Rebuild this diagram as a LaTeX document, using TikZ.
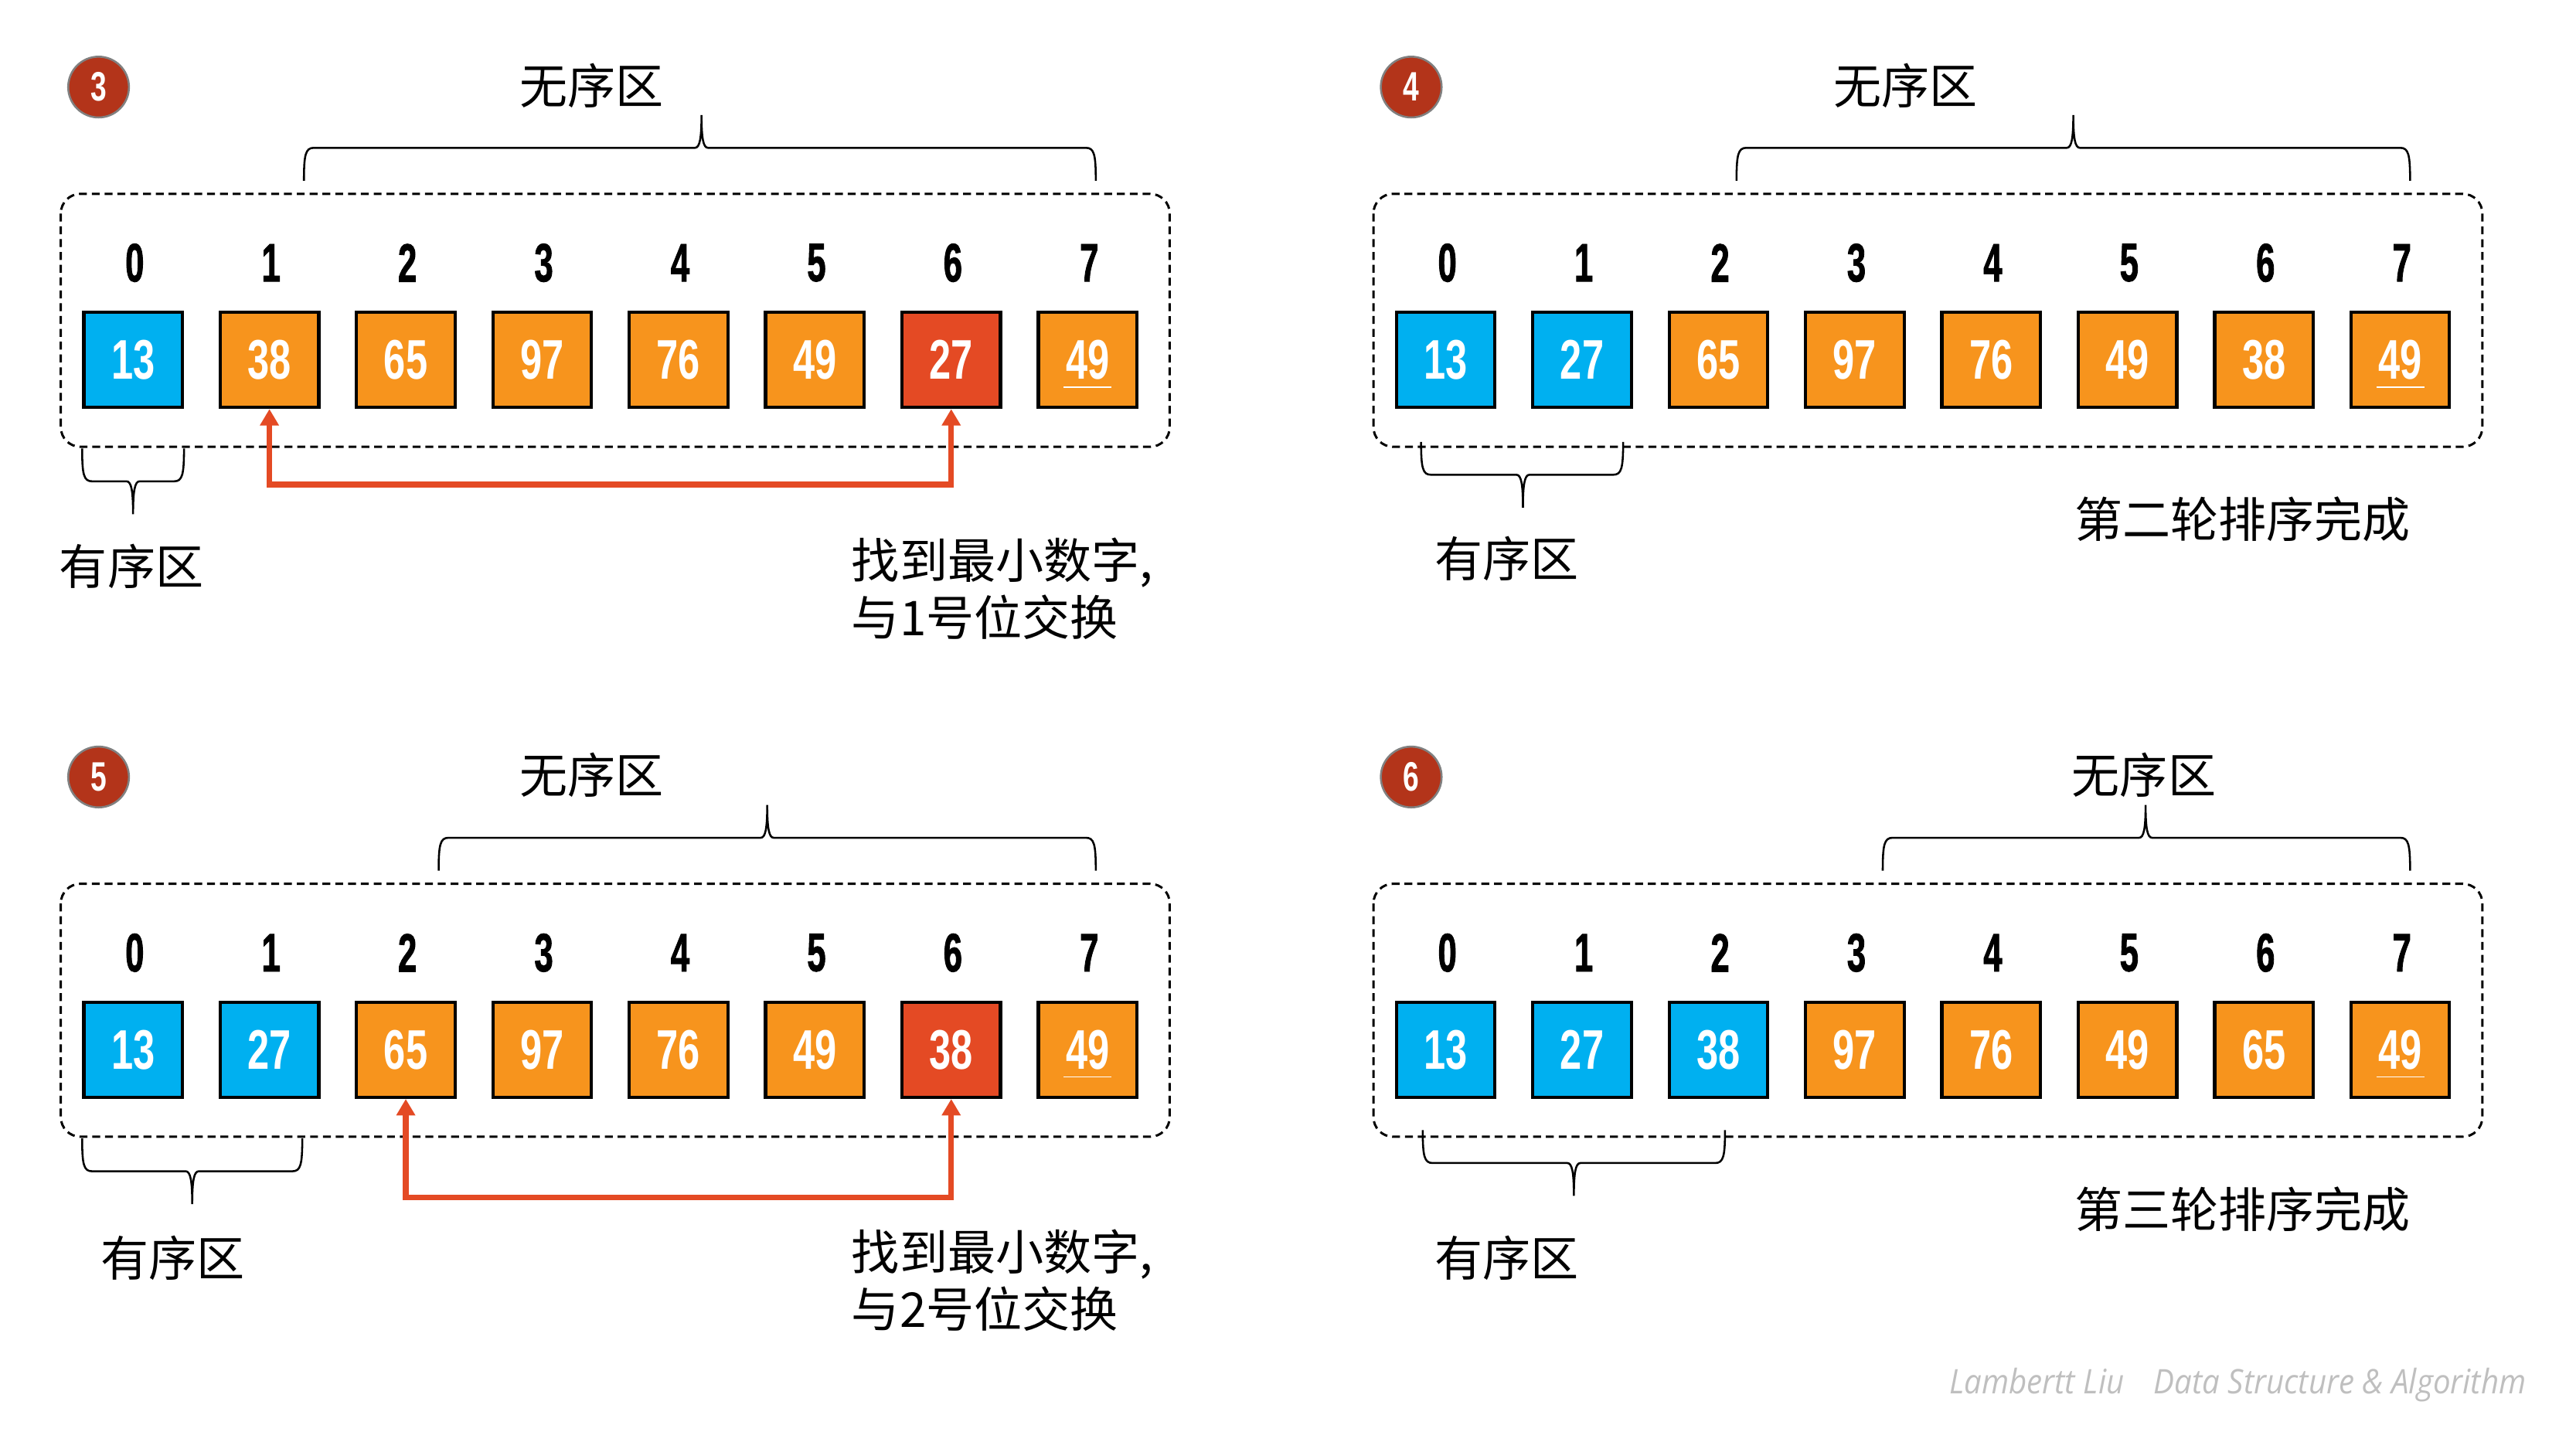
\documentclass[tikz,border=0pt]{standalone}
\usepackage{fontspec}
\newfontfamily\cjk{Noto Sans CJK SC}
\newfontfamily\valfont[FakeStretch=0.7]{Liberation Sans}
\newfontfamily\idxfont[FakeStretch=0.62,FakeBold=1.2]{Liberation Sans Bold}
\newfontfamily\footfont[FakeStretch=0.92]{Open Sans}
\usetikzlibrary{arrows.meta}
\definecolor{cblue}{HTML}{00B0F0}
\definecolor{corange}{HTML}{F7941D}
\definecolor{cred}{HTML}{E44A24}
\definecolor{cbadge}{HTML}{B3341A}
\tikzset{
  cell/.style={draw=black, line width=1pt, minimum width=30pt, minimum height=29pt, inner sep=0pt, text=white, font=\valfont\bfseries\fontsize{17}{17}\selectfont},
  bcell/.style={cell, fill=cblue},
  ocell/.style={cell, fill=corange},
  rcell/.style={cell, fill=cred},
  idx/.style={inner sep=0pt, font=\idxfont\fontsize{16.5}{16.5}\selectfont},
  badge/.style={circle, fill=cbadge, draw=gray, line width=0.6pt, minimum size=18.5pt, inner sep=0pt, text=white, font=\valfont\bfseries\fontsize{12.5}{12.5}\selectfont},
  cjktext/.style={inner sep=0pt, font=\cjk\fontsize{14.6}{17.5}\selectfont},
  zone/.style={draw=black, dash pattern=on 2.4pt off 1.5pt, line width=0.7pt, rounded corners=6pt},
  bracestyle/.style={draw=black, line width=0.6pt},
  swap/.style={draw=cred, line width=1.7pt, {Triangle[width=5.5pt,length=5pt]}-{Triangle[width=5.5pt,length=5pt]}},
  dupline/.style={draw=white, line width=0.4pt}
}
% #1 x1, #2 x2, #3 xm, #4 yline, #5 d (ends go to yline+d, tip to yline-d)
\newcommand{\MyBrace}[5]{%
  \draw[bracestyle] (#1,{#4+(#5)}) .. controls (#1,{#4+0.2*(#5)}) and ({#1+1},#4) .. ({#1+6},#4)
    -- ({#3-4},#4) .. controls ({#3-1},#4) and (#3,{#4-0.3*(#5)}) .. (#3,{#4-(#5)})
    .. controls (#3,{#4-0.3*(#5)}) and ({#3+1},#4) .. ({#3+4},#4)
    -- ({#2-6},#4) .. controls ({#2-1},#4) and (#2,{#4+0.2*(#5)}) .. (#2,{#4+(#5)});
}
% #1 prefix, #2 dx, #3 dy, #4 badge, #5 cells
\newcommand{\Panel}[5]{%
  \begin{scope}[shift={(#2,#3)}]
    \node[badge] (#1badge) at (60,53) {#4};
    \draw[zone] (37,118) rectangle (712,272);
    \foreach \s/\v [count=\i from 0] in {#5} {
      \node[idx] (#1i\i) at (82+83*\i,160) {\i};
      \node[\s] (#1b\i) at (81+83*\i,219) {\v};
    }
    \draw[dupline] ([shift={(-7.3pt,-8.3pt)}]#1b7.center) -- ([shift={(7.3pt,-8.3pt)}]#1b7.center);
  \end{scope}
}
\begin{document}
\begin{tikzpicture}[x=0.5pt,y=-0.5pt]
\useasboundingbox (0,0) rectangle (1568,882);

% ---------- panel 3 ----------
\Panel{p3}{0}{0}{3}{bcell/13,ocell/38,ocell/65,ocell/97,ocell/76,ocell/49,rcell/27,ocell/49}
\node[cjktext] (p3u) at (360,52) {无序区};
\MyBrace{185}{667}{427}{90}{20}
\MyBrace{50}{112}{81}{293}{-20}
\node[cjktext] (p3o) at (80,345) {有序区};
\coordinate (p3m) at (372,295);
\draw[swap] (p3b1.south) |- (p3m) -| (p3b6.south);
\node[cjktext, anchor=west, align=left] (p3t) at (518,358.5) {找到最小数字,\\与1号位交换};

% ---------- panel 4 ----------
\Panel{p4}{799}{0}{4}{bcell/13,bcell/27,ocell/65,ocell/97,ocell/76,ocell/49,ocell/38,ocell/49}
\node[cjktext] (p4u) at (1160,52) {无序区};
\MyBrace{1057}{1467}{1262}{90}{20}
\MyBrace{865}{988}{927}{289}{-20}
\node[cjktext] (p4o) at (917,340) {有序区};
\node[cjktext] (p4t) at (1365,316) {第二轮排序完成};

% ---------- panel 5 ----------
\Panel{p5}{0}{420}{5}{bcell/13,bcell/27,ocell/65,ocell/97,ocell/76,ocell/49,rcell/38,ocell/49}
\node[cjktext] (p5u) at (360,472) {无序区};
\MyBrace{267}{667}{467}{510}{20}
\MyBrace{50}{184}{117}{713}{-20}
\node[cjktext] (p5o) at (105,766) {有序区};
\coordinate (p5m) at (413,729);
\draw[swap] (p5b2.south) |- (p5m) -| (p5b6.south);
\node[cjktext, anchor=west, align=left] (p5t) at (518,779.5) {找到最小数字,\\与2号位交换};

% ---------- panel 6 ----------
\Panel{p6}{799}{420}{6}{bcell/13,bcell/27,bcell/38,ocell/97,ocell/76,ocell/49,ocell/65,ocell/49}
\node[cjktext] (p6u) at (1305,472) {无序区};
\MyBrace{1146}{1467}{1306}{510}{20}
\MyBrace{866}{1050}{958}{708}{-20}
\node[cjktext] (p6o) at (917,766) {有序区};
\node[cjktext] (p6t) at (1365,736) {第三轮排序完成};

% ---------- footer ----------
\node[anchor=east, inner sep=0pt, text=black!25, font=\footfont\itshape\fontsize{10.3}{10.3}\selectfont] (foot) at (1538,843) {Lambertt Liu\hspace{9pt}Data Structure \& Algorithm};
\end{tikzpicture}
\end{document}
